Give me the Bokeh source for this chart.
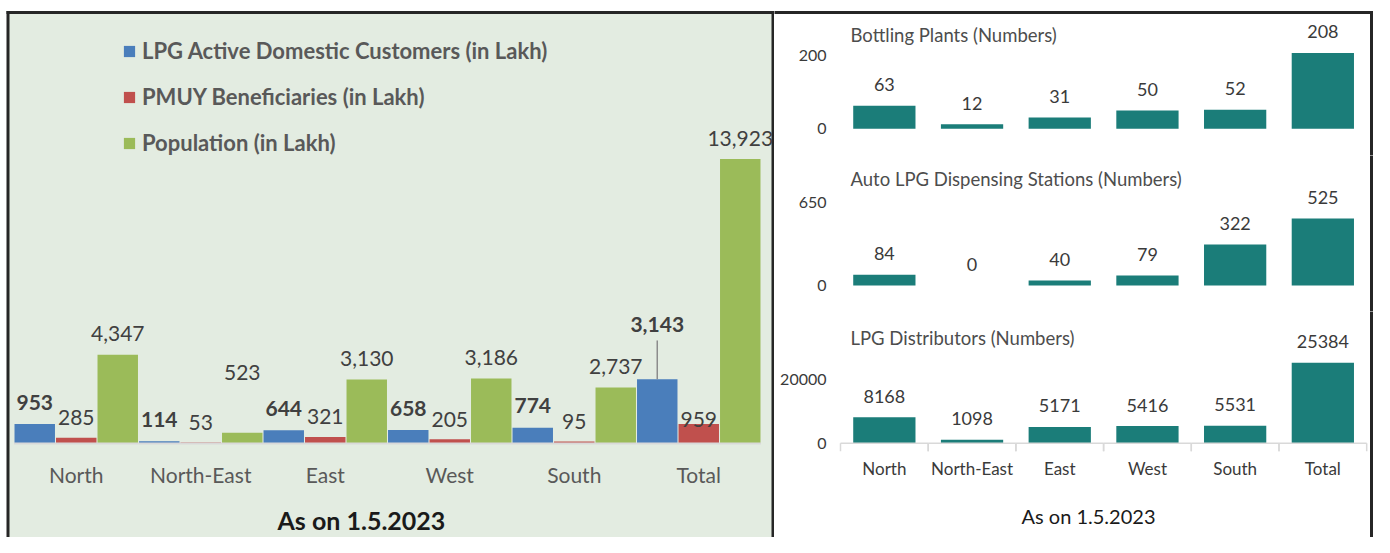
from bokeh.plotting import figure
from bokeh.models import (FactorRange, Range1d, Legend, LegendItem, Label,
                          ColumnDataSource, BoxAnnotation)
from bokeh.transform import dodge
from bokeh.layouts import row, column
from bokeh.core.properties import value
from bokeh.embed import file_html
from bokeh.resources import INLINE

# ---------------- data ----------------
regions = ["North", "North-East", "East", "West", "South", "Total"]
lpg_customers = [953, 114, 644, 658, 774, 3143]      # LPG Active Domestic Customers (in Lakh)
pmuy_beneficiaries = [285, 53, 321, 205, 95, 959]     # PMUY Beneficiaries (in Lakh)
population = [4347, 523, 3130, 3186, 2737, 13923]     # Population (in Lakh)

bottling_plants = [63, 12, 31, 50, 52, 208]
auto_lpg_stations = [84, 0, 40, 79, 322, 525]
lpg_distributors = [8168, 1098, 5171, 5416, 5531, 25384]

bottling_ticks = [0, 200]
auto_lpg_ticks = [0, 650]
distributor_ticks = [0, 20000]

# ---------------- style ----------------
FONT = "Lato"
BG = "#e3ece1"
BLUE, RED, GREEN, TEAL = "#4a7ebb", "#c0504d", "#9bbb59", "#1b7d79"
TXT = "#404040"
DARK = "#262626"
AXIS = "#d9d9d9"

# label nudges (pixels, positive = down) for the left chart
lpg_dy = [-22, -22, -22, -22, -22, -55]
pmuy_dy = [-20, -20, -20, -20, -20, -4]
pop_dy = [-21, -60, -21, -21, -21, -21]


def rect(p, left, right, top, bottom, color):
    p.add_layout(BoxAnnotation(left=left, right=right, top=top, bottom=bottom,
                               left_units="canvas", right_units="canvas",
                               top_units="canvas", bottom_units="canvas",
                               fill_color=color, fill_alpha=1, line_alpha=0,
                               level="underlay"))


# ---------------- left chart ----------------
src = ColumnDataSource(dict(
    region=regions,
    lpg=lpg_customers, pmuy=pmuy_beneficiaries, pop=population,
    lpg_t=[f"{v:,}" for v in lpg_customers],
    pmuy_t=[f"{v:,}" for v in pmuy_beneficiaries],
    pop_t=[f"{v:,}" for v in population],
    lpg_dy=lpg_dy, pmuy_dy=pmuy_dy, pop_dy=pop_dy,
    zero=[0] * len(regions),
))

left = figure(width=774, height=537,
              x_range=FactorRange(*regions, range_padding=0.1084, range_padding_units="absolute"),
              y_range=Range1d(-4601, 21684),
              x_axis_location=None, y_axis_location=None,
              output_backend="svg", toolbar_location=None,
              min_border_left=0, min_border_right=0, min_border_top=0, min_border_bottom=0,
              background_fill_color="white", border_fill_color="white", outline_line_color=None)
left.xgrid.visible = False
left.ygrid.visible = False
# panel background and its dark frame (left, top, right edges)
rect(left, 7.5, 772.5, 12, 700, BG)
rect(left, 6, 9, 10.5, 700, DARK)
rect(left, 6, 800, 10.5, 13.5, DARK)
rect(left, 771, 800, 10.5, 700, DARK)

xr = left.x_range
W = 0.325
rb = left.vbar(x=dodge("region", -1/3, range=xr), top="lpg", width=W, source=src,
               fill_color=BLUE, line_color=None)
rr = left.vbar(x=dodge("region", 0, range=xr), top="pmuy", width=W, source=src,
               fill_color=RED, line_color=None)
rg = left.vbar(x=dodge("region", 1/3, range=xr), top="pop", width=W, source=src,
               fill_color=GREEN, line_color=None)

# category axis line
left.segment(x0=dodge("region", -0.5, range=xr), x1=dodge("region", 0.5, range=xr),
             y0="zero", y1="zero", source=src, line_color=AXIS, line_width=2)

# leader line for the raised Total label
lead = ColumnDataSource(dict(region=[regions[-1]], y0=[lpg_customers[-1]],
                             y1=[lpg_customers[-1] + 1900]))
left.segment(x0=dodge("region", -1/3, range=xr), y0="y0",
             x1=dodge("region", -1/3, range=xr), y1="y1",
             source=lead, line_color="#8c8c8c", line_width=1.5)

common = dict(text_align="center", text_baseline="middle", text_font=value(FONT),
              text_font_size="21px", text_color=TXT, source=src)
left.text(x=dodge("region", -1/3, range=xr), y="lpg", text="lpg_t", y_offset="lpg_dy",
          text_font_style="bold", **common)
left.text(x=dodge("region", 0, range=xr), y="pmuy", text="pmuy_t", y_offset="pmuy_dy", **common)
left.text(x=dodge("region", 1/3, range=xr), y="pop", text="pop_t", y_offset="pop_dy", **common)

# category labels
left.text(x="region", y="zero", text="region", source=src, y_offset=31, text_align="center",
          text_baseline="middle", text_font=value(FONT), text_font_size="21px",
          text_color="#595959")

left.add_layout(Label(x=277, y=18, x_units="screen", y_units="screen", text="As on 1.5.2023",
                      text_baseline="middle", text_align="left", text_font=FONT,
                      text_font_size="25px", text_font_style="bold", text_color="#1a1a1a"))

legend = Legend(items=[
    LegendItem(label="LPG Active Domestic Customers (in Lakh)", renderers=[rb]),
    LegendItem(label="PMUY Beneficiaries (in Lakh)", renderers=[rr]),
    LegendItem(label="Population (in Lakh)", renderers=[rg]),
], location=(122, 381), orientation="vertical",
    background_fill_alpha=0, border_line_color=None,
    label_text_font=FONT, label_text_font_style="bold", label_text_font_size="22px",
    label_text_color="#595959", glyph_width=14, glyph_height=14, label_standoff=6,
    spacing=19, padding=0, margin=0, label_height=20)
left.add_layout(legend)

# ---------------- right charts ----------------
SHIFT = 0.3318   # category offset inside the right panel (factor units)


def small_chart(values, ticks, title, height, y0, y1, title_y, top_border, tick_len=None):
    s = ColumnDataSource(dict(region=regions, v=values, t=[str(v) for v in values],
                              zero=[0] * len(values)))
    p = figure(width=600, height=height,
               x_range=FactorRange(*regions, range_padding=0.4208, range_padding_units="absolute"),
               y_range=Range1d(y0, y1), x_axis_location=None, y_axis_location=None,
               output_backend="svg", toolbar_location=None,
               min_border_left=0, min_border_right=0, min_border_top=0, min_border_bottom=0,
               background_fill_color="white", border_fill_color="white", outline_line_color=None)
    p.xgrid.visible = False
    p.ygrid.visible = False
    xr = p.x_range
    # panel frame: right edge (and top edge for the first chart)
    rect(p, 595.5, 598.5, 10.5 if top_border else -50, 700, DARK)
    if top_border:
        rect(p, -50, 598.5, 10.5, 13.5, DARK)

    p.vbar(x=dodge("region", SHIFT, range=xr), top="v", width=0.71, source=s,
           fill_color=TEAL, line_color=None)
    p.text(x=dodge("region", SHIFT, range=xr), y="v", text="t", source=s, text_align="center",
           text_baseline="middle", y_offset=-21, text_font=value(FONT), text_font_size="18px",
           text_color="#3a3a3a")
    for tk in ticks:
        p.add_layout(Label(x=52, y=tk, x_units="screen", y_units="data", text=str(tk),
                           text_align="right", text_baseline="middle", text_font=FONT,
                           text_font_size="16px", text_color="#3a3a3a"))
    p.add_layout(Label(x=76, y=title_y, x_units="screen", y_units="screen", text=title,
                       text_baseline="middle", text_font=FONT, text_font_size="18.5px",
                       text_color="#4d4d4d"))
    if tick_len is not None:
        p.segment(x0=dodge("region", SHIFT - 0.5, range=xr), x1=dodge("region", SHIFT + 0.5, range=xr),
                  y0="zero", y1="zero", source=s, line_color=AXIS, line_width=1.5)
        p.segment(x0=dodge("region", SHIFT - 0.5, range=xr), x1=dodge("region", SHIFT - 0.5, range=xr),
                  y0="zero", y1=-tick_len, source=s, line_color=AXIS, line_width=1.5)
        p.segment(x0=dodge("region", SHIFT + 0.5, range=xr), x1=dodge("region", SHIFT + 0.5, range=xr),
                  y0="zero", y1=-tick_len, source=s, line_color=AXIS, line_width=1.5)
        p.text(x=dodge("region", SHIFT, range=xr), y="zero", text="region", source=s, y_offset=25,
               text_align="center", text_baseline="middle", text_font=value(FONT),
               text_font_size="17px", text_color="#3a3a3a")
        p.add_layout(Label(x=314, y=21.4, x_units="screen", y_units="screen",
                           text="As on 1.5.2023", text_align="center", text_baseline="middle",
                           text_font=FONT, text_font_size="20px", text_color="#1a1a1a"))
    return p


pa = small_chart(bottling_plants, bottling_ticks, "Bottling Plants (Numbers)",
                 155, -73.6, 352.1, 121, True)
pb = small_chart(auto_lpg_stations, auto_lpg_ticks, "Auto LPG Dispensing Stations (Numbers)",
                 156, -203.8, 1018.8, 132.3, False)
pc = small_chart(lpg_distributors, distributor_ticks, "LPG Distributors (Numbers)",
                 226, -29669, 41512, 199.1, False, tick_len=2520)

right = column(pa, pb, pc, spacing=0)
layout = row(left, right, spacing=0)
open("out.html", "w").write(file_html(layout, INLINE))
